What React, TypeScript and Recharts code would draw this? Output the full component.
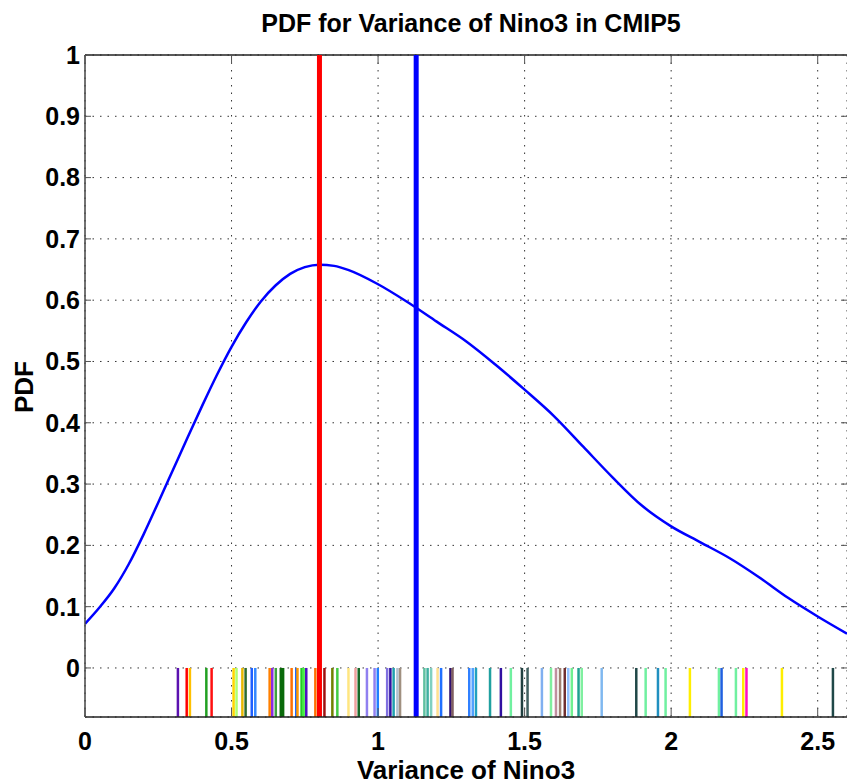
import React from 'react';
import {
  ComposedChart,
  Line,
  XAxis,
  YAxis,
  CartesianGrid,
  ReferenceLine,
} from 'recharts';

// PDF curve
const pdfX = [
  0, 0.05, 0.1, 0.15, 0.2, 0.25, 0.3, 0.35, 0.4, 0.45, 0.5, 0.55, 0.6, 0.65, 0.7, 0.75,
  0.8, 0.85, 0.9, 1.0, 1.1, 1.2, 1.3, 1.4, 1.5, 1.6, 1.7, 1.8, 1.9, 2.0, 2.1, 2.2, 2.3,
  2.4, 2.5, 2.6,
];
const pdfY = [
  0.072, 0.099, 0.13, 0.17, 0.218, 0.27, 0.323, 0.376, 0.428, 0.478, 0.524, 0.564, 0.598,
  0.624, 0.643, 0.654, 0.658, 0.656, 0.649, 0.626, 0.597, 0.565, 0.533, 0.495, 0.454,
  0.411, 0.361, 0.311, 0.265, 0.231, 0.205, 0.179, 0.148, 0.114, 0.084, 0.056,
];

// individual models (rug)
const rugX = [
  0.317, 0.347, 0.358, 0.414, 0.432, 0.507, 0.517, 0.537, 0.548, 0.569, 0.581, 0.63,
  0.639, 0.651, 0.668, 0.676, 0.705, 0.721, 0.725, 0.739, 0.746, 0.755, 0.786, 0.817,
  0.844, 0.861, 0.899, 0.923, 0.934, 0.962, 0.988, 0.999, 1.031, 1.042, 1.053, 1.066,
  1.075, 1.158, 1.169, 1.181, 1.203, 1.215, 1.247, 1.254, 1.311, 1.323, 1.334, 1.382,
  1.419, 1.453, 1.491, 1.51, 1.559, 1.59, 1.607, 1.621, 1.637, 1.649, 1.661, 1.684,
  1.695, 1.763, 1.881, 1.913, 1.955, 1.981, 2.064, 2.163, 2.172, 2.221, 2.246, 2.257,
  2.378, 2.552,
];
const rugColors = [
  '#5b12b0', '#ff0000', '#ffc000', '#22a022', '#ff1010', '#ffd700', '#b0ff70', '#e8b800',
  '#2e6b2e', '#1f5fff', '#3388ff', '#ff8000', '#8a2be2', '#40a040', '#0a6a0a', '#0a6a0a',
  '#ff7000', '#1060ff', '#ff9900', '#22cc22', '#44ee44', '#5010c0', '#ff7000', '#a01010',
  '#708000', '#44cc44', '#ffe680', '#f0a0a0', '#1a6a2a', '#9080f0', '#9080f0', '#2080ff',
  '#8070e0', '#3010a0', '#20a0b0', '#b0c0d0', '#a09080', '#60c0a0', '#40b0a0', '#80d0c0',
  '#ffe090', '#2070ff', '#301070', '#806060', '#3080ff', '#50a0ff', '#20a0c0', '#20a0a0',
  '#3010a0', '#70f0a0', '#204040', '#406060', '#80b0f0', '#80f0a0', '#c090a0', '#a08070',
  '#703030', '#90c0ff', '#70f090', '#20a090', '#80f0a0', '#80b8f0', '#204848', '#70f0a0',
  '#2090c0', '#70f0a0', '#ffee00', '#70f0a0', '#2060e0', '#70f0a0', '#ffee00', '#ff10c0',
  '#ffee00', '#204848',
];

const xTicks = [0, 0.5, 1, 1.5, 2, 2.5];
const yTicks = [0, 0.1, 0.2, 0.3, 0.4, 0.5, 0.6, 0.7, 0.8, 0.9, 1];
const redMarker = 0.8;
const blueMarker = 1.13;

const FONT = '"Liberation Sans", Arial, Helvetica, sans-serif';
const W = 847;
const H = 784;
const PLOT_TOP = 55;
const PLOT_BOTTOM = 717;
const PLOT_LEFT = 85;

const data = pdfX.map((x, i) => ({ x, pdf: pdfY[i] }));

function XTick(props: any) {
  const { x, y, payload } = props;
  return (
    <g>
      <line x1={x} x2={x} y1={PLOT_BOTTOM} y2={PLOT_BOTTOM - 9} stroke="#555" />
      <line x1={x} x2={x} y1={PLOT_TOP} y2={PLOT_TOP + 9} stroke="#555" />
      <text x={x} y={y + 33} textAnchor="middle" fontSize={25} fontWeight="bold" fontFamily={FONT} fill="#000">
        {String(payload.value)}
      </text>
    </g>
  );
}

function YTick(props: any) {
  const { x, y, payload } = props;
  return (
    <g>
      <line x1={PLOT_LEFT} x2={PLOT_LEFT + 6} y1={y} y2={y} stroke="#555" />
      <line x1={W - 6} x2={W} y1={y} y2={y} stroke="#555" />
      <text x={x - 5} y={y} dy="0.355em" textAnchor="end" fontSize={25} fontWeight="bold" fontFamily={FONT} fill="#000">
        {String(payload.value)}
      </text>
    </g>
  );
}

export default function App() {
  return (
    <div style={{ position: 'absolute', left: 0, top: 0, width: W, height: H, background: '#fff' }}>
      <ComposedChart
        width={W}
        height={H}
        data={data}
        margin={{ top: PLOT_TOP, right: 0, bottom: 0, left: 0 }}
      >
        <CartesianGrid stroke="#333" strokeDasharray="1.5 6" />
        <XAxis
          dataKey="x"
          type="number"
          domain={[0, 2.6]}
          ticks={xTicks}
          allowDataOverflow
          height={H - PLOT_BOTTOM}
          tickSize={0}
          tickMargin={0}
          tickLine={false}
          axisLine={{ stroke: '#222', strokeWidth: 1.5 }}
          tick={XTick}
          interval={0}
        />
        <YAxis
          type="number"
          domain={[-0.08, 1]}
          ticks={yTicks}
          allowDataOverflow
          width={PLOT_LEFT}
          tickSize={0}
          tickMargin={0}
          tickLine={false}
          axisLine={{ stroke: '#444', strokeWidth: 1.5 }}
          tick={YTick}
          interval={0}
        />
        <ReferenceLine y={1} stroke="#222" strokeWidth={1.5} />
        {rugX.map((v, i) => (
          <ReferenceLine
            key={`rug-${i}`}
            segment={[{ x: v, y: 0 }, { x: v, y: -0.08 }]}
            stroke={rugColors[i]}
            strokeWidth={2.5}
          />
        ))}
        <Line
          type="monotone"
          dataKey="pdf"
          stroke="#0000ff"
          strokeWidth={2.5}
          dot={false}
          isAnimationActive={false}
        />
        <ReferenceLine x={redMarker} stroke="#ff0000" strokeWidth={5} />
        <ReferenceLine x={blueMarker} stroke="#0000ff" strokeWidth={5} />
      </ComposedChart>
      <svg
        width={W}
        height={H}
        style={{ position: 'absolute', left: 0, top: 0, pointerEvents: 'none' }}
      >
        <text x={471} y={32} textAnchor="middle" fontSize={25} fontWeight="bold" fontFamily={FONT} fill="#000">
          PDF for Variance of Nino3 in CMIP5
        </text>
        <text x={466} y={779} textAnchor="middle" fontSize={26} fontWeight="bold" fontFamily={FONT} fill="#000">
          Variance of Nino3
        </text>
        <text
          x={33}
          y={387}
          transform="rotate(-90 33 387)"
          textAnchor="middle"
          fontSize={26}
          fontWeight="bold"
          fontFamily={FONT}
          fill="#000"
        >
          PDF
        </text>
      </svg>
    </div>
  );
}
